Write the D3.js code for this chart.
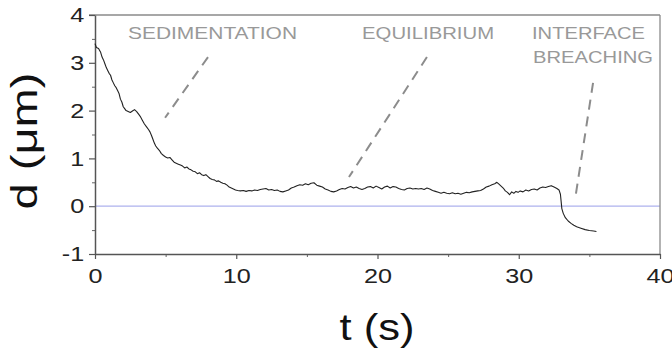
<!DOCTYPE html>
<html>
<head>
<meta charset="utf-8">
<script src="https://cdn.jsdelivr.net/npm/d3@7"></script>
<style>
  html, body { margin: 0; padding: 0; background: #fff; }
  svg { display: block; font-family: "Liberation Sans", Arial, sans-serif; }
</style>
</head>
<body>
<div id="chart"></div>
<script>
// time (s) of each sample
const times = [
  0.00, 0.10, 0.25, 0.40, 0.50, 0.60, 0.70, 0.80, 0.90, 1.00, 1.10, 1.20, 1.30, 1.40, 1.50,
  1.60, 1.70, 1.80, 1.90, 2.00, 2.10, 2.20, 2.35, 2.50, 2.65, 2.80, 2.95, 3.10, 3.20, 3.35,
  3.50, 3.65, 3.80, 3.90, 4.00, 4.10, 4.20, 4.30, 4.40, 4.55, 4.70, 4.85, 5.00, 5.15, 5.30,
  5.45, 5.60, 5.75, 5.90, 6.05, 6.20, 6.35, 6.50, 6.65, 6.80, 6.95, 7.10, 7.25, 7.40, 7.55,
  7.70, 7.85, 8.00, 8.15, 8.30, 8.45, 8.60, 8.75, 8.90, 9.05, 9.20, 9.35, 9.50, 9.65, 9.80,
  9.95, 10.1, 10.3, 10.5, 10.7, 10.9, 11.1, 11.3, 11.5, 11.7, 11.9, 12.1, 12.3, 12.5, 12.7,
  12.9, 13.1, 13.3, 13.5, 13.7, 13.9, 14.1, 14.3, 14.5, 14.7, 14.9, 15.1, 15.3, 15.5, 15.7,
  15.9, 16.1, 16.3, 16.5, 16.7, 16.9, 17.1, 17.3, 17.5, 17.7, 17.9, 18.1, 18.3, 18.5, 18.7,
  18.9, 19.1, 19.3, 19.5, 19.7, 19.9, 20.1, 20.3, 20.5, 20.7, 20.9, 21.1, 21.3, 21.5, 21.7,
  21.9, 22.1, 22.3, 22.5, 22.7, 22.9, 23.1, 23.3, 23.5, 23.7, 23.9, 24.1, 24.3, 24.5, 24.7,
  24.9, 25.1, 25.3, 25.5, 25.7, 25.9, 26.1, 26.3, 26.5, 26.7, 26.9, 27.1, 27.3, 27.5, 27.7,
  27.9, 28.1, 28.3, 28.45, 28.6, 28.75, 28.9, 29.05, 29.2, 29.35, 29.5, 29.65, 29.8, 29.95, 30.1,
  30.3, 30.5, 30.7, 30.9, 31.1, 31.3, 31.5, 31.7, 31.9, 32.1, 32.3, 32.5, 32.7, 32.85, 32.95,
  33.0, 33.05, 33.15, 33.3, 33.5, 33.7, 33.9, 34.1, 34.4, 34.7, 35.0, 35.3, 35.5
];

// separation d (um)
const distances = [
  3.40, 3.32, 3.30, 3.22, 3.12, 3.06, 2.98, 2.90, 2.84, 2.78, 2.74, 2.64, 2.58, 2.52, 2.48,
  2.42, 2.36, 2.24, 2.18, 2.08, 2.04, 2.00, 1.98, 1.96, 1.99, 2.02, 1.98, 1.92, 1.88, 1.80,
  1.72, 1.66, 1.60, 1.55, 1.48, 1.40, 1.32, 1.26, 1.22, 1.17, 1.10, 1.06, 1.03, 1.01, 1.02,
  0.97, 0.92, 0.90, 0.88, 0.86, 0.84, 0.80, 0.82, 0.78, 0.76, 0.73, 0.72, 0.68, 0.70, 0.66,
  0.64, 0.66, 0.62, 0.58, 0.56, 0.55, 0.52, 0.53, 0.50, 0.48, 0.47, 0.44, 0.40, 0.38, 0.36,
  0.34, 0.33, 0.32, 0.33, 0.31, 0.33, 0.32, 0.34, 0.33, 0.35, 0.36, 0.37, 0.34, 0.35, 0.33,
  0.34, 0.31, 0.30, 0.32, 0.34, 0.38, 0.40, 0.43, 0.45, 0.44, 0.47, 0.45, 0.48, 0.49, 0.44,
  0.42, 0.40, 0.36, 0.34, 0.31, 0.30, 0.32, 0.35, 0.37, 0.36, 0.39, 0.41, 0.38, 0.40, 0.37,
  0.35, 0.37, 0.40, 0.41, 0.38, 0.42, 0.39, 0.36, 0.40, 0.42, 0.38, 0.41, 0.40, 0.37, 0.35,
  0.34, 0.37, 0.38, 0.36, 0.37, 0.36, 0.37, 0.35, 0.38, 0.36, 0.33, 0.31, 0.29, 0.27, 0.29,
  0.27, 0.26, 0.28, 0.26, 0.27, 0.25, 0.27, 0.29, 0.28, 0.30, 0.31, 0.32, 0.33, 0.36, 0.40,
  0.42, 0.45, 0.47, 0.50, 0.46, 0.42, 0.38, 0.32, 0.29, 0.24, 0.30, 0.27, 0.31, 0.29, 0.32,
  0.30, 0.34, 0.32, 0.35, 0.36, 0.34, 0.38, 0.40, 0.39, 0.41, 0.43, 0.40, 0.37, 0.34, 0.25,
  0.10, -0.05, -0.15, -0.24, -0.31, -0.36, -0.40, -0.43, -0.46, -0.49, -0.51, -0.52, -0.53
];

const xTicks = [0, 10, 20, 30, 40];
const xMinorTicks = [5, 15, 25, 35];
const yTicks = [-1, 0, 1, 2, 3, 4];
const yMinorTicks = [-0.5, 0.5, 1.5, 2.5, 3.5];

// phase labels, anchored in data units
const phaseLabels = [
  {text: 'SEDIMENTATION', t: 8.32, d: 3.50},
  {text: 'EQUILIBRIUM', t: 23.58, d: 3.50},
  {text: 'INTERFACE', t: 34.94, d: 3.50},
  {text: 'BREACHING', t: 35.26, d: 3.00}
];
const phasePointers = [
  {t1: 8.0, d1: 3.12, t2: 4.96, d2: 1.85},
  {t1: 23.5, d1: 3.12, t2: 17.98, d2: 0.61},
  {t1: 35.26, d1: 2.58, t2: 33.98, d2: 0.13}
];

const W = 672, H = 350;
const svg = d3.select('#chart').append('svg')
  .attr('width', W)
  .attr('height', H);

const x = d3.scaleLinear().domain([0, 40]).range([95, 660]);
const y = d3.scaleLinear().domain([-1, 4]).range([254, 15]);

const labelWidths = {SEDIMENTATION: 169, EQUILIBRIUM: 132, INTERFACE: 113, BREACHING: 120};
const plainNumber = d => (d < 0 ? '-' : '') + Math.abs(d);

// zero reference line
svg.append('line')
  .attr('x1', x(0)).attr('x2', x(40))
  .attr('y1', y(0)).attr('y2', y(0))
  .style('stroke', '#aeb2ee')
  .style('stroke-width', 1.2);

// frame top and right
svg.append('line')
  .attr('x1', x(0) - 6).attr('x2', x(40))
  .attr('y1', y(4)).attr('y2', y(4))
  .style('stroke', '#8a8a8a').style('stroke-width', 1.3);
svg.append('line')
  .attr('x1', x(40)).attr('x2', x(40))
  .attr('y1', y(4)).attr('y2', y(-1))
  .style('stroke', '#8a8a8a').style('stroke-width', 1.3);

// minor ticks
svg.append('g')
  .attr('transform', `translate(0,${y(-1)})`)
  .call(d3.axisBottom(x).tickValues(xMinorTicks).tickSize(3).tickFormat(''))
  .call(g => g.select('.domain').remove())
  .selectAll('line').style('stroke', '#666');
svg.append('g')
  .attr('transform', `translate(${x(0)},0)`)
  .call(d3.axisLeft(y).tickValues(yMinorTicks).tickSize(3).tickFormat(''))
  .call(g => g.select('.domain').remove())
  .selectAll('line').style('stroke', '#666');

// major axes
const xAxis = svg.append('g')
  .attr('transform', `translate(0,${y(-1)})`)
  .call(d3.axisBottom(x).tickValues(xTicks).tickFormat(plainNumber)
    .tickSize(5).tickSizeOuter(0).tickPadding(9));
const yAxis = svg.append('g')
  .attr('transform', `translate(${x(0)},0)`)
  .call(d3.axisLeft(y).tickValues(yTicks).tickFormat(plainNumber)
    .tickSize(6).tickSizeOuter(0).tickPadding(3));

[xAxis, yAxis].forEach(g => {
  g.select('.domain').style('stroke', '#555').style('stroke-width', 1.5);
  g.selectAll('.tick line').style('stroke', '#555').style('stroke-width', 1.2);
  g.selectAll('.tick text')
    .style('font-family', '"Liberation Sans", Arial, sans-serif')
    .style('font-size', '21px')
    .style('fill', '#222')
    .attr('transform', 'scale(1.2,1)');
});

// the trace
const points = times.map((t, i) => ({t, d: distances[i]}));
svg.append('path')
  .datum(points)
  .attr('d', d3.line().x(p => x(p.t)).y(p => y(p.d)))
  .style('fill', 'none')
  .style('stroke', '#222')
  .style('stroke-width', 1.1)
  .style('stroke-linejoin', 'round');

// phase annotations
svg.selectAll('.pointer')
  .data(phasePointers)
  .join('line')
  .attr('class', 'pointer')
  .attr('x1', p => x(p.t1)).attr('y1', p => y(p.d1))
  .attr('x2', p => x(p.t2)).attr('y2', p => y(p.d2))
  .style('stroke', '#8c8c8c')
  .style('stroke-width', 2)
  .style('stroke-dasharray', '10,7');

svg.selectAll('.phase')
  .data(phaseLabels)
  .join('text')
  .attr('class', 'phase')
  .attr('x', p => x(p.t))
  .attr('y', p => y(p.d))
  .attr('text-anchor', 'middle')
  .attr('textLength', p => labelWidths[p.text])
  .attr('lengthAdjust', 'spacingAndGlyphs')
  .style('font-size', '17px')
  .style('fill', '#999')
  .text(p => p.text);

// axis titles
svg.append('text')
  .attr('transform', 'translate(37,141) rotate(-90)')
  .attr('text-anchor', 'middle')
  .attr('textLength', 137)
  .attr('lengthAdjust', 'spacingAndGlyphs')
  .style('font-size', '36px')
  .style('fill', '#111')
  .text('d (μm)');

svg.append('text')
  .attr('x', 377)
  .attr('y', 340)
  .attr('text-anchor', 'middle')
  .attr('textLength', 75)
  .attr('lengthAdjust', 'spacingAndGlyphs')
  .style('font-size', '36px')
  .style('fill', '#111')
  .text('t (s)');
</script>
</body>
</html>
